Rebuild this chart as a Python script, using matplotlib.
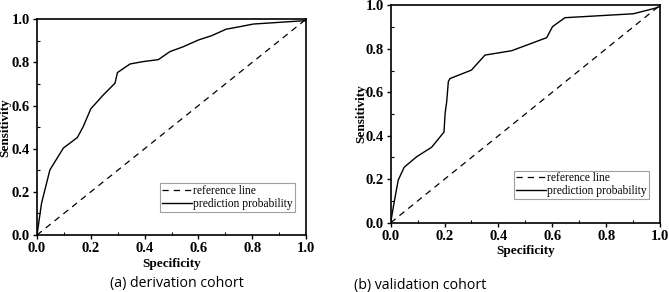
import matplotlib
matplotlib.use("Agg")
import matplotlib.pyplot as plt
from matplotlib.ticker import MultipleLocator

# derivation cohort ROC points
deriv_x = [0.0, 0.017, 0.048, 0.098, 0.15, 0.172, 0.2, 0.247, 0.29, 0.299, 0.346,
           0.395, 0.451, 0.494, 0.544, 0.6, 0.649, 0.703, 0.755, 0.804, 1.0]
deriv_y = [0.0, 0.148, 0.302, 0.403, 0.452, 0.503, 0.585, 0.65, 0.704, 0.753, 0.793,
           0.804, 0.813, 0.85, 0.873, 0.904, 0.924, 0.954, 0.966, 0.978, 0.994]

# validation cohort ROC points
valid_x = [0.0, 0.01, 0.02, 0.028, 0.05, 0.097, 0.152, 0.198, 0.202, 0.208, 0.214,
           0.22, 0.3, 0.35, 0.449, 0.579, 0.601, 0.647, 0.901, 0.98, 1.0]
valid_y = [0.0, 0.074, 0.143, 0.196, 0.255, 0.304, 0.347, 0.417, 0.503, 0.557, 0.649,
           0.663, 0.702, 0.771, 0.791, 0.851, 0.902, 0.943, 0.961, 0.986, 0.994]

ticks = [0.0, 0.2, 0.4, 0.6, 0.8, 1.0]
tick_labels = ["0.0", "0.2", "0.4", "0.6", "0.8", "1.0"]

serif = "Liberation Serif"
W, H = 669, 292


def draw_panel(ax, xs, ys, ylab_x):
    ref, = ax.plot([0, 1], [0, 1], color="black", lw=0.9, ls=(0, (5, 4)))
    roc, = ax.plot(xs, ys, color="black", lw=1.0)
    ax.set_xlim(0, 1)
    ax.set_ylim(0, 1)
    ax.set_xticks(ticks)
    ax.set_yticks(ticks)
    ax.set_xticklabels(tick_labels, family=serif, weight="bold", fontsize=10.5)
    ax.set_yticklabels(tick_labels, family=serif, weight="bold", fontsize=10.5)
    ax.xaxis.set_minor_locator(MultipleLocator(0.1))
    ax.yaxis.set_minor_locator(MultipleLocator(0.1))
    ax.tick_params(which="major", direction="out", length=3, width=1, pad=2)
    ax.tick_params(which="minor", direction="in", length=2, width=0.8)
    for s in ax.spines.values():
        s.set_linewidth(1.2)
    ax.set_xlabel("Specificity", family=serif, weight="bold", fontsize=9.5, labelpad=2)
    ax.set_ylabel("Sensitivity", family=serif, weight="bold", fontsize=9.5)
    ax.yaxis.set_label_coords(ylab_x, 0.5)
    leg = ax.legend([ref, roc], ["reference line", "prediction probability"],
                    loc="lower right", bbox_to_anchor=(0.958, 0.108),
                    prop={"family": serif, "size": 8.3}, frameon=True, fancybox=False,
                    handlelength=2.6, handletextpad=0.1, borderpad=0.15,
                    labelspacing=0.1, borderaxespad=0)
    leg.get_frame().set_edgecolor("#888888")
    leg.get_frame().set_linewidth(0.8)


fig = plt.figure(figsize=(W / 100, H / 100), dpi=100)

ax1 = fig.add_axes([37 / W, 1 - 235 / H, 269 / W, 215.7 / H])
draw_panel(ax1, deriv_x, deriv_y, -0.097)
fig.text(177 / W, 1 - 284 / H, "(a) derivation cohort", family="Open Sans",
         fontsize=10.2, ha="center", va="center")

ax2 = fig.add_axes([390.7 / W, 1 - 222.7 / H, 269.3 / W, 217.4 / H])
draw_panel(ax2, valid_x, valid_y, -0.088)
fig.text(420 / W, 1 - 285 / H, "(b) validation cohort", family="Open Sans",
         fontsize=10.2, ha="center", va="center")

fig.savefig("out.png", dpi=100)
